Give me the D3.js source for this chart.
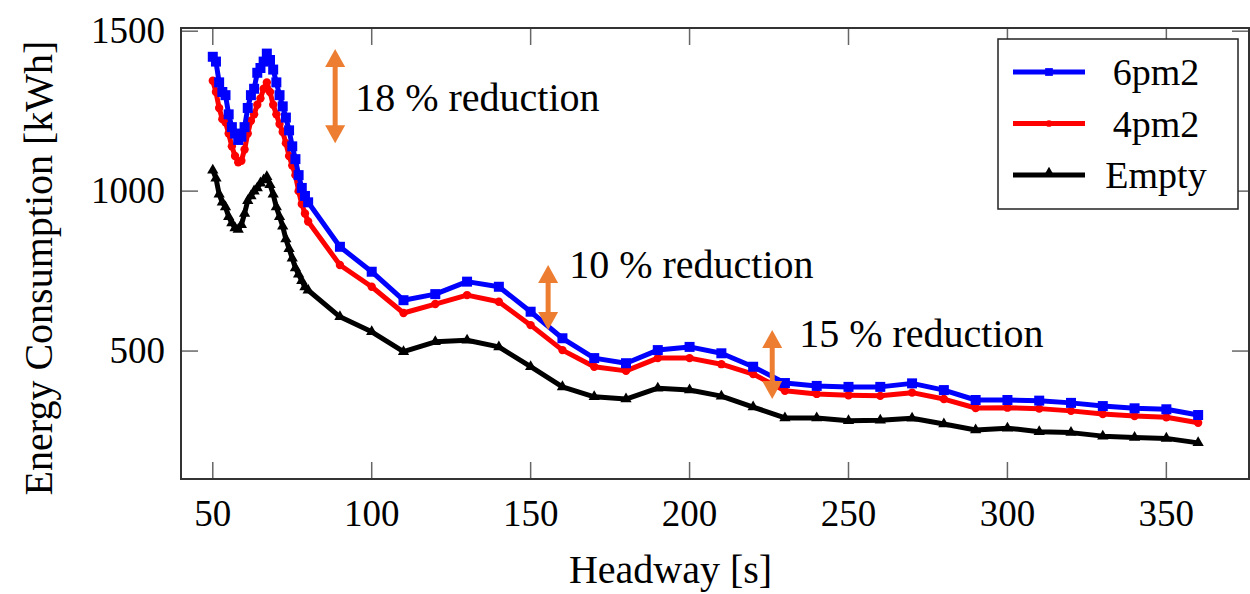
<!DOCTYPE html>
<html>
<head>
<meta charset="utf-8">
<script src="https://cdn.jsdelivr.net/npm/d3@7"></script>
<style>
  body { margin: 0; background: #fff; }
  .canvas { width: 1250px; height: 594px; }
</style>
</head>
<body>
<div class="canvas"></div>
<script>
var pageWidth = 1250,
    pageHeight = 594;
var margins = {t:28,r:1,b:115,l:181};
var plotWidth = pageWidth - margins.l - margins.r,
    plotHeight = pageHeight - margins.t - margins.b;
var serif = "'Liberation Serif', 'DejaVu Serif', serif";

// headway values (s)
var headway = [50,51,52,53,54,55,56,57,58,59,60,61,62,63,64,65,66,67,68,69,70,71,72,73,74,75,76,77,78,79,80,
    90,100,110,120,130,140,150,160,170,180,190,200,210,220,230,240,250,260,270,280,290,300,310,320,330,340,350,360];

// energy consumption (kWh)
var load6pm2 = [1420,1405,1340,1310,1300,1240,1200,1180,1160,1170,1200,1260,1300,1320,1370,1385,1405,1430,1410,1380,1340,1300,1265,1230,1190,1140,1100,1050,1010,985,965,
    826,748,659,678,717,701,623,540,478,462,503,513,493,451,400,391,388,388,399,378,347,347,345,338,328,321,318,300];
var load4pm2 = [1345,1310,1260,1225,1215,1180,1140,1110,1090,1095,1130,1180,1220,1240,1270,1290,1320,1340,1310,1270,1240,1210,1185,1150,1110,1080,1050,1000,960,930,905,
    769,701,619,647,675,654,581,503,451,438,478,478,459,428,376,366,362,360,370,350,322,323,320,313,303,297,293,276];
var loadEmpty = [1065,1040,990,965,950,920,900,885,880,895,930,970,985,1000,1010,1025,1035,1045,1020,990,950,920,890,850,820,790,760,740,720,700,690,
    607,560,498,529,534,513,451,388,357,350,384,378,359,325,291,291,282,284,290,272,253,259,248,245,234,230,227,213];

var seriesNames = ['6pm2','4pm2','Empty'];
var seriesColors = ['#0000ff','#ff0000','#000000'];
var seriesValues = [load6pm2, load4pm2, loadEmpty];
var seriesSymbols = [d3.symbolSquare, d3.symbolCircle, d3.symbolTriangle];
var symbolSizes = [100, 55, 55];

var xTicks = [50,100,150,200,250,300,350];
var yTicks = [500,1000,1500];

// annotation arrows: x, top value, bottom value, label
var arrowX = [88.5, 155.5, 226];
var arrowTop = [1444, 769, 566];
var arrowBottom = [1150, 566, 350];
var arrowLabels = ['18 % reduction','10 % reduction','15 % reduction'];

var svg = d3.select('.canvas')
    .append('svg')
    .attr('width',pageWidth)
    .attr('height',pageHeight)
    .style('font-family',serif);

var plot = svg.append('g')
    .attr('transform','translate('+margins.l+','+margins.t+')');

var x = d3.scaleLinear().domain([40,376]).range([0,plotWidth]);
var y = d3.scaleLinear().domain([100,1510]).range([plotHeight,0]);

// ticks inside the frame, mirrored on all sides
var tickLen = 17;
var tickColor = '#666';
xTicks.forEach(function(t){
    plot.append('line').attr('x1',x(t)).attr('x2',x(t)).attr('y1',plotHeight).attr('y2',plotHeight-tickLen)
        .attr('stroke',tickColor).attr('stroke-width',1.5);
    plot.append('line').attr('x1',x(t)).attr('x2',x(t)).attr('y1',0).attr('y2',tickLen)
        .attr('stroke',tickColor).attr('stroke-width',1.5);
    plot.append('text').attr('x',x(t)).attr('y',plotHeight+47)
        .attr('text-anchor','middle').attr('font-family',serif).style('font-size','37px').text(t);
});
yTicks.forEach(function(t){
    plot.append('line').attr('x1',0).attr('x2',tickLen).attr('y1',y(t)).attr('y2',y(t))
        .attr('stroke',tickColor).attr('stroke-width',1.5);
    plot.append('line').attr('x1',plotWidth).attr('x2',plotWidth-tickLen).attr('y1',y(t)).attr('y2',y(t))
        .attr('stroke',tickColor).attr('stroke-width',1.5);
    plot.append('text').attr('x',-16).attr('y',y(t)+12)
        .attr('text-anchor','end').attr('font-family',serif).style('font-size','37px').text(t);
});

// series
var line = d3.line()
    .x(function(d){ return x(d[0]); })
    .y(function(d){ return y(d[1]); });

for(var s = 2; s >= 0; s--){
    var pts = headway.map(function(h,i){ return [h, seriesValues[s][i]]; });
    var g = plot.append('g').attr('class','series');
    g.append('path')
        .datum(pts)
        .attr('d',line)
        .attr('fill','none')
        .attr('stroke',seriesColors[s])
        .attr('stroke-width',5)
        .attr('stroke-linejoin','round');
    g.selectAll('path.mark')
        .data(pts)
        .enter()
        .append('path')
        .attr('class','mark')
        .attr('transform',function(d){ return 'translate('+x(d[0])+','+y(d[1])+')'; })
        .attr('d',d3.symbol().type(seriesSymbols[s]).size(symbolSizes[s]))
        .attr('fill',seriesColors[s]);
}

// frame
plot.append('rect')
    .attr('width',plotWidth)
    .attr('height',plotHeight)
    .attr('fill','none')
    .attr('stroke','#333')
    .attr('stroke-width',2);

// annotations
var orange = '#ed7d31';
arrowX.forEach(function(ax,i){
    var cx = x(ax), yt = y(arrowTop[i]), yb = y(arrowBottom[i]);
    var head = 18, hw = 10;
    plot.append('line').attr('x1',cx).attr('x2',cx).attr('y1',yt+head-2).attr('y2',yb-head+2)
        .attr('stroke',orange).attr('stroke-width',5);
    plot.append('path')
        .attr('d','M'+cx+','+yt+'L'+(cx+hw)+','+(yt+head)+'L'+(cx-hw)+','+(yt+head)+'Z')
        .attr('fill',orange);
    plot.append('path')
        .attr('d','M'+cx+','+yb+'L'+(cx+hw)+','+(yb-head)+'L'+(cx-hw)+','+(yb-head)+'Z')
        .attr('fill',orange);
});
var labelDx = [20, 21, 27];
var labelY = [83, 250, 319];
arrowLabels.forEach(function(l,i){
    plot.append('text')
        .attr('x',x(arrowX[i])+labelDx[i])
        .attr('y',labelY[i])
        .attr('font-family',serif)
        .style('font-size','40px')
        .style('fill','#000')
        .text(l);
});

// legend
var legend = svg.append('g').attr('transform','translate(998,39)');
legend.append('rect')
    .attr('width',240).attr('height',170)
    .attr('fill','#fff').attr('stroke','#222').attr('stroke-width',1.5);
seriesNames.forEach(function(n,i){
    var ly = 33 + i*51.5;
    legend.append('line').attr('x1',15).attr('x2',87).attr('y1',ly).attr('y2',ly)
        .attr('stroke',seriesColors[i]).attr('stroke-width',5);
    legend.append('path')
        .attr('transform','translate(51,'+(ly - (i==2 ? 3 : 0))+')')
        .attr('d',d3.symbol().type(seriesSymbols[i]).size(i==0 ? 60 : 35))
        .attr('fill',seriesColors[i]);
    legend.append('text').attr('x',158).attr('y',ly+13)
        .attr('text-anchor','middle').attr('font-family',serif).style('font-size','38px').text(n);
});

// axis titles
svg.append('text')
    .attr('x',margins.l + x(194))
    .attr('y',583)
    .attr('text-anchor','middle')
    .attr('font-family',serif)
    .style('font-size','40px')
    .text('Headway [s]');
svg.append('text')
    .attr('transform','translate(52,268) rotate(-90)')
    .attr('text-anchor','middle')
    .attr('font-family',serif)
    .style('font-size','40px')
    .text('Energy Consumption [kWh]');
</script>
</body>
</html>
